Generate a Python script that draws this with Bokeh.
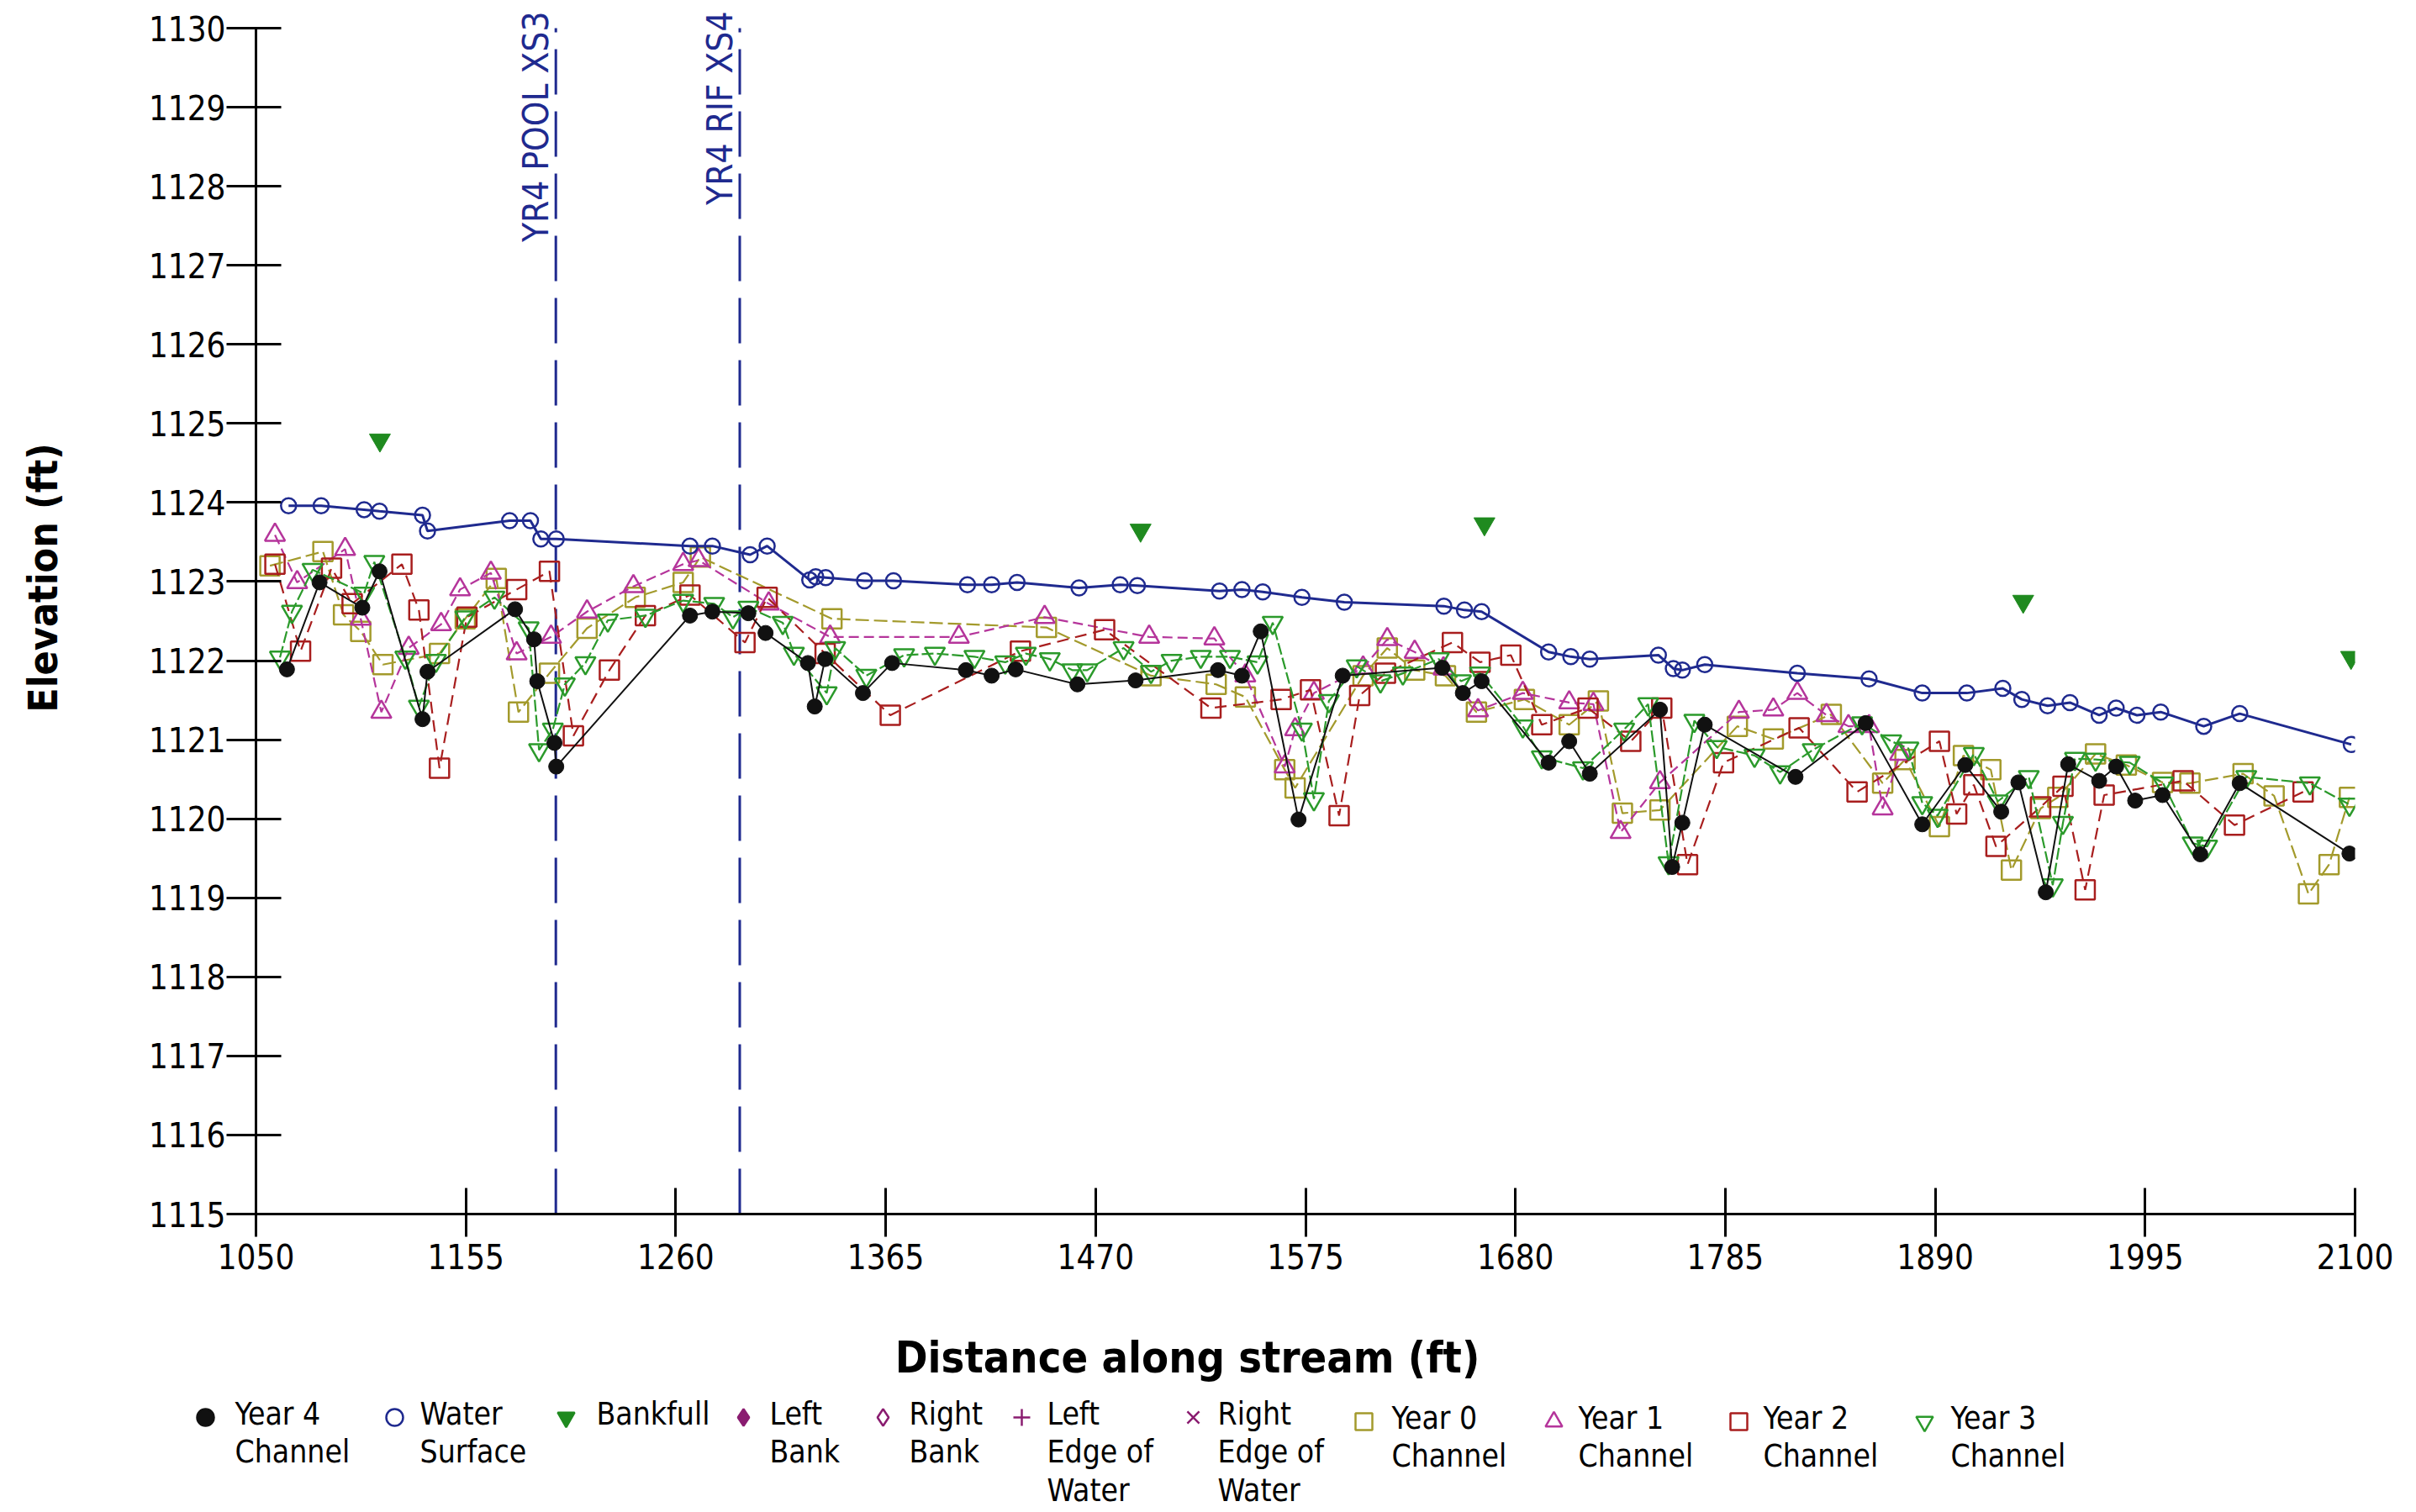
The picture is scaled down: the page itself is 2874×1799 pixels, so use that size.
from bokeh.plotting import figure
from bokeh.models import Range1d, FixedTicker, LabelSet, ColumnDataSource
from bokeh.layouts import column, row
from bokeh.core.properties import value
from bokeh.embed import file_html
from bokeh.resources import INLINE

# ---------------- data ----------------
x_ticks = [1050, 1155, 1260, 1365, 1470, 1575, 1680, 1785, 1890, 1995, 2100]
y_ticks = list(range(1115, 1131))

xs_lines = [1200, 1292]
xs_names = ["YR4 POOL XS3", "YR4 RIF XS4"]

y4_x = [1065.5, 1081.8, 1103.2, 1111.8, 1133.3, 1135.8, 1179.6, 1189.1, 1190.7, 1199.3, 1200.2,
        1267.1, 1278.3, 1296.3, 1304.9, 1326.1, 1329.5, 1334.7, 1353.6, 1368.2, 1405.1, 1418.0,
        1430.0, 1460.9, 1490.0, 1531.2, 1543.2, 1552.6, 1571.5, 1593.6, 1643.4, 1653.7, 1663.1,
        1696.6, 1706.9, 1717.2, 1752.3, 1758.4, 1763.5, 1774.7, 1820.1, 1855.2, 1883.5, 1905.0,
        1923.0, 1931.6, 1945.3, 1956.5, 1972.0, 1980.5, 1990.0, 2003.7, 2022.6, 2042.3, 2097.2]
y4_y = [1121.89, 1122.99, 1122.67, 1123.13, 1121.26, 1121.86, 1122.65, 1122.27, 1121.74, 1120.96, 1120.66,
        1122.57, 1122.62, 1122.60, 1122.35, 1121.97, 1121.42, 1122.02, 1121.59, 1121.97, 1121.88, 1121.81,
        1121.89, 1121.70, 1121.75, 1121.88, 1121.81, 1122.37, 1119.99, 1121.81, 1121.91, 1121.59, 1121.74,
        1120.71, 1120.98, 1120.57, 1121.38, 1119.39, 1119.95, 1121.19, 1120.53, 1121.21, 1119.93, 1120.68,
        1120.09, 1120.46, 1119.07, 1120.69, 1120.48, 1120.66, 1120.23, 1120.30, 1119.55, 1120.45, 1119.56]

ws_x = [1066.3, 1082.6, 1104.1, 1111.8, 1133.3, 1135.8, 1176.9, 1187.3, 1192.5, 1200.2, 1267.1,
        1278.3, 1297.2, 1305.7, 1327.0, 1330.0, 1335.0, 1354.4, 1368.9, 1405.9, 1418.0, 1430.7,
        1461.7, 1482.3, 1490.9, 1532.0, 1543.2, 1553.6, 1573.2, 1594.4, 1644.2, 1654.5, 1663.1,
        1696.6, 1707.7, 1717.2, 1751.5, 1759.0, 1763.5, 1774.7, 1821.0, 1856.9, 1883.5, 1905.8,
        1923.8, 1933.3, 1946.2, 1957.4, 1972.0, 1980.5, 1990.9, 2002.8, 2024.3, 2042.3, 2098.1]
ws_y = [1123.96, 1123.96, 1123.91, 1123.89, 1123.84, 1123.64, 1123.77, 1123.77, 1123.54, 1123.54, 1123.45,
        1123.45, 1123.34, 1123.45, 1123.02, 1123.06, 1123.05, 1123.01, 1123.01, 1122.96, 1122.96, 1122.99,
        1122.92, 1122.96, 1122.95, 1122.88, 1122.90, 1122.87, 1122.80, 1122.74, 1122.69, 1122.64, 1122.62,
        1122.11, 1122.05, 1122.02, 1122.07, 1121.90, 1121.88, 1121.95, 1121.84, 1121.77, 1121.59, 1121.59,
        1121.65, 1121.51, 1121.43, 1121.47, 1121.31, 1121.40, 1121.31, 1121.35, 1121.17, 1121.33, 1120.94]

bf_x = [1112.0, 1492.5, 1664.5, 1934.0, 2098.0]
bf_y = [1124.79, 1123.65, 1123.73, 1122.75, 1122.04]

y0_x = [1057.0, 1083.5, 1093.8, 1102.4, 1113.5, 1141.8, 1154.7, 1170.2, 1181.3, 1196.8, 1215.6,
        1239.7, 1263.7, 1272.3, 1338.1, 1445.4, 1497.7, 1530.3, 1544.9, 1564.6, 1569.8, 1603.8,
        1615.9, 1629.6, 1645.0, 1660.5, 1684.5, 1706.9, 1721.5, 1733.5, 1752.3, 1791.0, 1809.0,
        1838.0, 1863.7, 1874.9, 1892.1, 1904.1, 1917.8, 1928.1, 1942.7, 1951.3, 1970.2, 1985.6,
        2003.7, 2017.4, 2044.0, 2059.5, 2076.7, 2087.0, 2097.2]
y0_y = [1123.20, 1123.38, 1122.58, 1122.37, 1121.95, 1122.09, 1122.53, 1123.04, 1121.35, 1121.84, 1122.41,
        1122.80, 1122.99, 1123.31, 1122.53, 1122.42, 1121.81, 1121.70, 1121.54, 1120.62, 1120.39, 1121.81,
        1122.16, 1121.88, 1121.81, 1121.35, 1121.51, 1121.19, 1121.49, 1120.07, 1120.11, 1121.17, 1121.01,
        1121.32, 1120.45, 1120.75, 1119.90, 1120.80, 1120.62, 1119.35, 1120.13, 1120.27, 1120.82, 1120.68,
        1120.46, 1120.45, 1120.57, 1120.29, 1119.05, 1119.42, 1120.27]

y1_x = [1059.5, 1070.6, 1094.6, 1102.4, 1112.7, 1126.4, 1142.6, 1152.1, 1167.5, 1180.4, 1197.6,
        1215.6, 1238.8, 1263.7, 1271.4, 1306.5, 1337.2, 1401.6, 1444.5, 1496.8, 1529.4, 1544.9,
        1564.6, 1569.8, 1579.2, 1603.8, 1615.9, 1629.6, 1644.0, 1661.3, 1683.7, 1706.9, 1719.0,
        1732.6, 1752.3, 1791.8, 1809.0, 1821.0, 1835.6, 1846.6, 1856.9, 1863.7, 1872.4]
y1_y = [1123.59, 1122.99, 1123.41, 1122.53, 1121.35, 1122.16, 1122.46, 1122.90, 1123.11, 1122.09, 1122.30,
        1122.62, 1122.94, 1123.22, 1123.27, 1122.72, 1122.30, 1122.30, 1122.55, 1122.30, 1122.28, 1121.81,
        1120.66, 1121.13, 1121.59, 1121.91, 1122.27, 1122.11, 1121.90, 1121.37, 1121.59, 1121.47, 1121.45,
        1119.83, 1120.46, 1121.35, 1121.38, 1121.59, 1121.31, 1121.17, 1121.17, 1120.13, 1120.82]

y2_x = [1059.5, 1072.3, 1087.8, 1098.1, 1123.0, 1131.5, 1141.8, 1155.5, 1180.4, 1196.8, 1208.8,
        1226.8, 1244.8, 1267.1, 1294.6, 1305.7, 1334.7, 1367.3, 1432.4, 1474.5, 1527.7, 1562.8,
        1577.5, 1591.8, 1602.1, 1615.0, 1648.5, 1662.3, 1677.7, 1693.2, 1716.3, 1737.7, 1753.2,
        1766.1, 1784.1, 1821.9, 1850.9, 1892.1, 1900.7, 1909.3, 1920.4, 1942.7, 1953.9, 1965.0,
        1974.5, 2014.0, 2039.7, 2074.0]
y2_y = [1123.22, 1122.12, 1123.17, 1122.72, 1123.22, 1122.64, 1120.64, 1122.55, 1122.90, 1123.13, 1121.05,
        1121.88, 1122.57, 1122.83, 1122.23, 1122.80, 1122.09, 1121.31, 1122.12, 1122.39, 1121.40, 1121.51,
        1121.63, 1120.04, 1121.56, 1121.84, 1122.23, 1121.98, 1122.07, 1121.19, 1121.40, 1120.98, 1121.40,
        1119.42, 1120.71, 1121.15, 1120.34, 1120.98, 1120.06, 1120.43, 1119.65, 1120.15, 1120.41, 1119.10,
        1120.30, 1120.48, 1119.92, 1120.34]

y3_x = [1062.0, 1068.0, 1078.3, 1104.1, 1109.2, 1124.7, 1131.5, 1140.0, 1154.7, 1169.3, 1186.4,
        1191.6, 1198.5, 1204.5, 1214.8, 1226.0, 1244.8, 1263.7, 1279.2, 1288.6, 1296.3, 1313.5,
        1319.1, 1335.5, 1339.7, 1355.3, 1374.2, 1389.6, 1409.4, 1424.8, 1435.1, 1447.1, 1458.3,
        1465.8, 1484.0, 1497.7, 1508.0, 1522.6, 1537.2, 1551.0, 1558.6, 1573.2, 1579.2, 1586.7,
        1600.6, 1612.5, 1623.7, 1641.7, 1652.8, 1662.3, 1683.7, 1693.2, 1713.8, 1734.4, 1746.4,
        1756.6, 1769.5, 1780.7, 1799.6, 1812.4, 1828.7, 1853.4, 1868.0, 1876.6, 1883.5, 1891.2,
        1909.3, 1921.3, 1936.8, 1948.8, 1953.9, 1959.9, 1970.2, 1987.3, 2004.0, 2018.8, 2026.0,
        2045.6, 2077.4, 2097.2]
y3_y = [1122.04, 1122.62, 1123.15, 1122.85, 1123.25, 1122.04, 1121.42, 1122.00, 1122.55, 1122.80, 1122.41,
        1120.87, 1121.13, 1121.70, 1121.97, 1122.51, 1122.57, 1122.76, 1122.72, 1122.55, 1122.67, 1122.48,
        1122.09, 1121.59, 1122.16, 1121.81, 1122.07, 1122.09, 1122.05, 1121.98, 1122.09, 1122.02, 1121.88,
        1121.88, 1122.16, 1121.86, 1122.00, 1122.05, 1122.05, 1121.98, 1122.48, 1121.13, 1120.25, 1121.49,
        1121.93, 1121.74, 1121.84, 1122.02, 1121.74, 1121.84, 1121.17, 1120.78, 1120.64, 1121.13, 1121.45,
        1119.44, 1121.24, 1120.91, 1120.80, 1120.59, 1120.87, 1121.21, 1120.98, 1120.89, 1120.20, 1120.04,
        1120.82, 1120.22, 1120.53, 1119.16, 1119.95, 1120.76, 1120.75, 1120.71, 1120.45, 1119.69, 1119.65,
        1120.53, 1120.45, 1120.18]

x_title = "Distance along stream (ft)"
y_title = "Elevation (ft)"
legend_labels = ["Year 4\nChannel", "Water\nSurface", "Bankfull", "Left\nBank", "Right\nBank",
                 "Left\nEdge of\nWater", "Right\nEdge of\nWater", "Year 0\nChannel",
                 "Year 1\nChannel", "Year 2\nChannel", "Year 3\nChannel"]

# ---------------- styles ----------------
FONT = "DejaVu Sans Condensed, Liberation Sans, sans-serif"
NAVY = "#1f2a8f"
BLACK = "#111111"
BF_GREEN = "#1f8a1f"
G3 = "#2b9a2b"
OLIVE = "#a39a2c"
MAG = "#b5359b"
RED = "#a81e1e"
PURPLE = "#8a1c70"

W = 2874
MAIN_H = 1530
LEFT_W = 110


def bare(fig):
    fig.xgrid.visible = False
    fig.ygrid.visible = False
    fig.outline_line_color = None
    if "frame_align" in fig.properties():
        fig.frame_align = False


# ---------------- left strip: y title ----------------
lf = figure(width=LEFT_W, height=MAIN_H, x_range=Range1d(0, LEFT_W), y_range=Range1d(0, MAIN_H),
            output_backend="svg", toolbar_location=None, min_border=0,
            x_axis_location=None, y_axis_location=None)
bare(lf)
ytitle_src = ColumnDataSource(dict(x=[50], y=[MAIN_H - 687], t=[y_title]))
lf.text(x="x", y="y", text="t", source=ytitle_src, angle=1.5707963, text_font=value(FONT),
        text_font_size="48px", text_font_style="bold", text_align="center",
        text_baseline="middle", text_color="black")

# ---------------- main chart ----------------
p = figure(width=W - LEFT_W, height=MAIN_H, x_range=Range1d(1050, 2100), y_range=Range1d(1115, 1130.245),
           output_backend="svg", toolbar_location=None,
           min_border_left=304 - LEFT_W, min_border_right=73, min_border_top=10, min_border_bottom=86)
bare(p)
p.background_fill_color = "white"
p.border_fill_color = "white"

p.xaxis.ticker = FixedTicker(ticks=x_ticks)
p.yaxis.ticker = FixedTicker(ticks=y_ticks)
p.yaxis.bounds = (1115, 1130)
for ax in (p.xaxis, p.yaxis):
    ax.minor_tick_line_color = None
    ax.axis_line_width = 3
    ax.major_tick_line_width = 3
    ax.axis_line_color = "black"
    ax.major_tick_line_color = "black"
    ax.major_label_text_font = FONT
    ax.major_label_text_font_size = "40px"
    ax.major_label_text_color = "black"
p.yaxis.major_tick_in = 30
p.yaxis.major_tick_out = 35
p.yaxis.major_label_standoff = 1
p.xaxis.major_tick_in = 31
p.xaxis.major_tick_out = 27
p.xaxis.major_label_standoff = 8

# vertical cross-section lines
p.segment(x0=xs_lines, y0=[1115] * len(xs_lines), x1=xs_lines, y1=[1130] * len(xs_lines),
          line_color=NAVY, line_width=3, line_dash="54 20")
lab_src = ColumnDataSource(dict(x=xs_lines, y=[1130] * len(xs_lines), t=xs_names))
p.add_layout(LabelSet(x="x", y="y", text="t", source=lab_src, angle=1.5707963,
                      text_align="right", text_baseline="alphabetic", x_offset=-9, y_offset=20,
                      text_font=value(FONT), text_font_size="42px", text_color=NAVY))

# earlier years (dashed)
series = [
    (y0_x, y0_y, OLIVE, "square", "16 6", 23),
    (y1_x, y1_y, MAG, "triangle", "12 6", 24),
    (y2_x, y2_y, RED, "square", "14 8", 23),
    (y3_x, y3_y, G3, "inverted_triangle", "14 4", 24),
]
for xx, yy, col, mk, dash, sz in series:
    p.line(xx, yy, line_color=col, line_width=2.2, line_dash=dash)
    p.scatter(xx, yy, marker=mk, size=sz, line_color=col, line_width=2.5, fill_alpha=0)

# year 4
p.line(y4_x, y4_y, line_color=BLACK, line_width=2)
p.scatter(y4_x, y4_y, marker="circle", size=18, line_color=BLACK, fill_color=BLACK)

# water surface
p.line(ws_x, ws_y, line_color=NAVY, line_width=3)
p.scatter(ws_x, ws_y, marker="circle", size=18, line_color=NAVY, line_width=2.5, fill_alpha=0)

# bankfull
p.scatter(bf_x, bf_y, marker="inverted_triangle", size=25, line_color=BF_GREEN, fill_color=BF_GREEN)

# ---------------- bottom strip: x title + legend ----------------
LH = 1799 - MAIN_H
lg = figure(width=W, height=LH, x_range=Range1d(0, W), y_range=Range1d(LH, 0),
            output_backend="svg", toolbar_location=None, min_border=0,
            x_axis_location=None, y_axis_location=None)
bare(lg)

title_src = ColumnDataSource(dict(x=[1412], y=[84], t=[x_title]))
lg.text(x="x", y="y", text="t", source=title_src, text_font=value(FONT), text_font_size="52px",
        text_font_style="bold", text_align="center", text_baseline="alphabetic", text_color="black")

mk_x = [244, 469, 673, 884, 1050, 1215, 1419, 1622, 1848, 2068, 2289]
tx_x = [279, 499, 709, 915, 1081, 1245, 1448, 1655, 1877, 2097, 2320]
row_dy = [0, 0, 0, 0, 0, 0, 0, 5, 5, 5, 5]
mk_types = ["circle", "circle", "inverted_triangle", "diamond", "diamond", "cross", "x",
            "square", "triangle", "square", "inverted_triangle"]
mk_cols = [BLACK, NAVY, BF_GREEN, PURPLE, PURPLE, PURPLE, PURPLE, OLIVE, MAG, RED, G3]
mk_fill = [1, 0, 1, 1, 0, 0, 0, 0, 0, 0, 0]
leg_src = ColumnDataSource(dict(x=mk_x, y=[156 + d for d in row_dy], m=mk_types, c=mk_cols,
                                fa=mk_fill, tx=tx_x, ty=[130 + d for d in row_dy], t=legend_labels))
lg.scatter(x="x", y="y", marker="m", size=20, line_color="c", fill_color="c", fill_alpha="fa",
           line_width=2.5, source=leg_src)
lg.text(x="tx", y="ty", text="t", source=leg_src, text_font=value(FONT), text_font_size="37px",
        text_baseline="top", text_align="left", text_line_height=1.06, text_color="black")

layout = column(row(lf, p, spacing=0), lg, spacing=0)
open("out.html", "w").write(file_html(layout, INLINE))
